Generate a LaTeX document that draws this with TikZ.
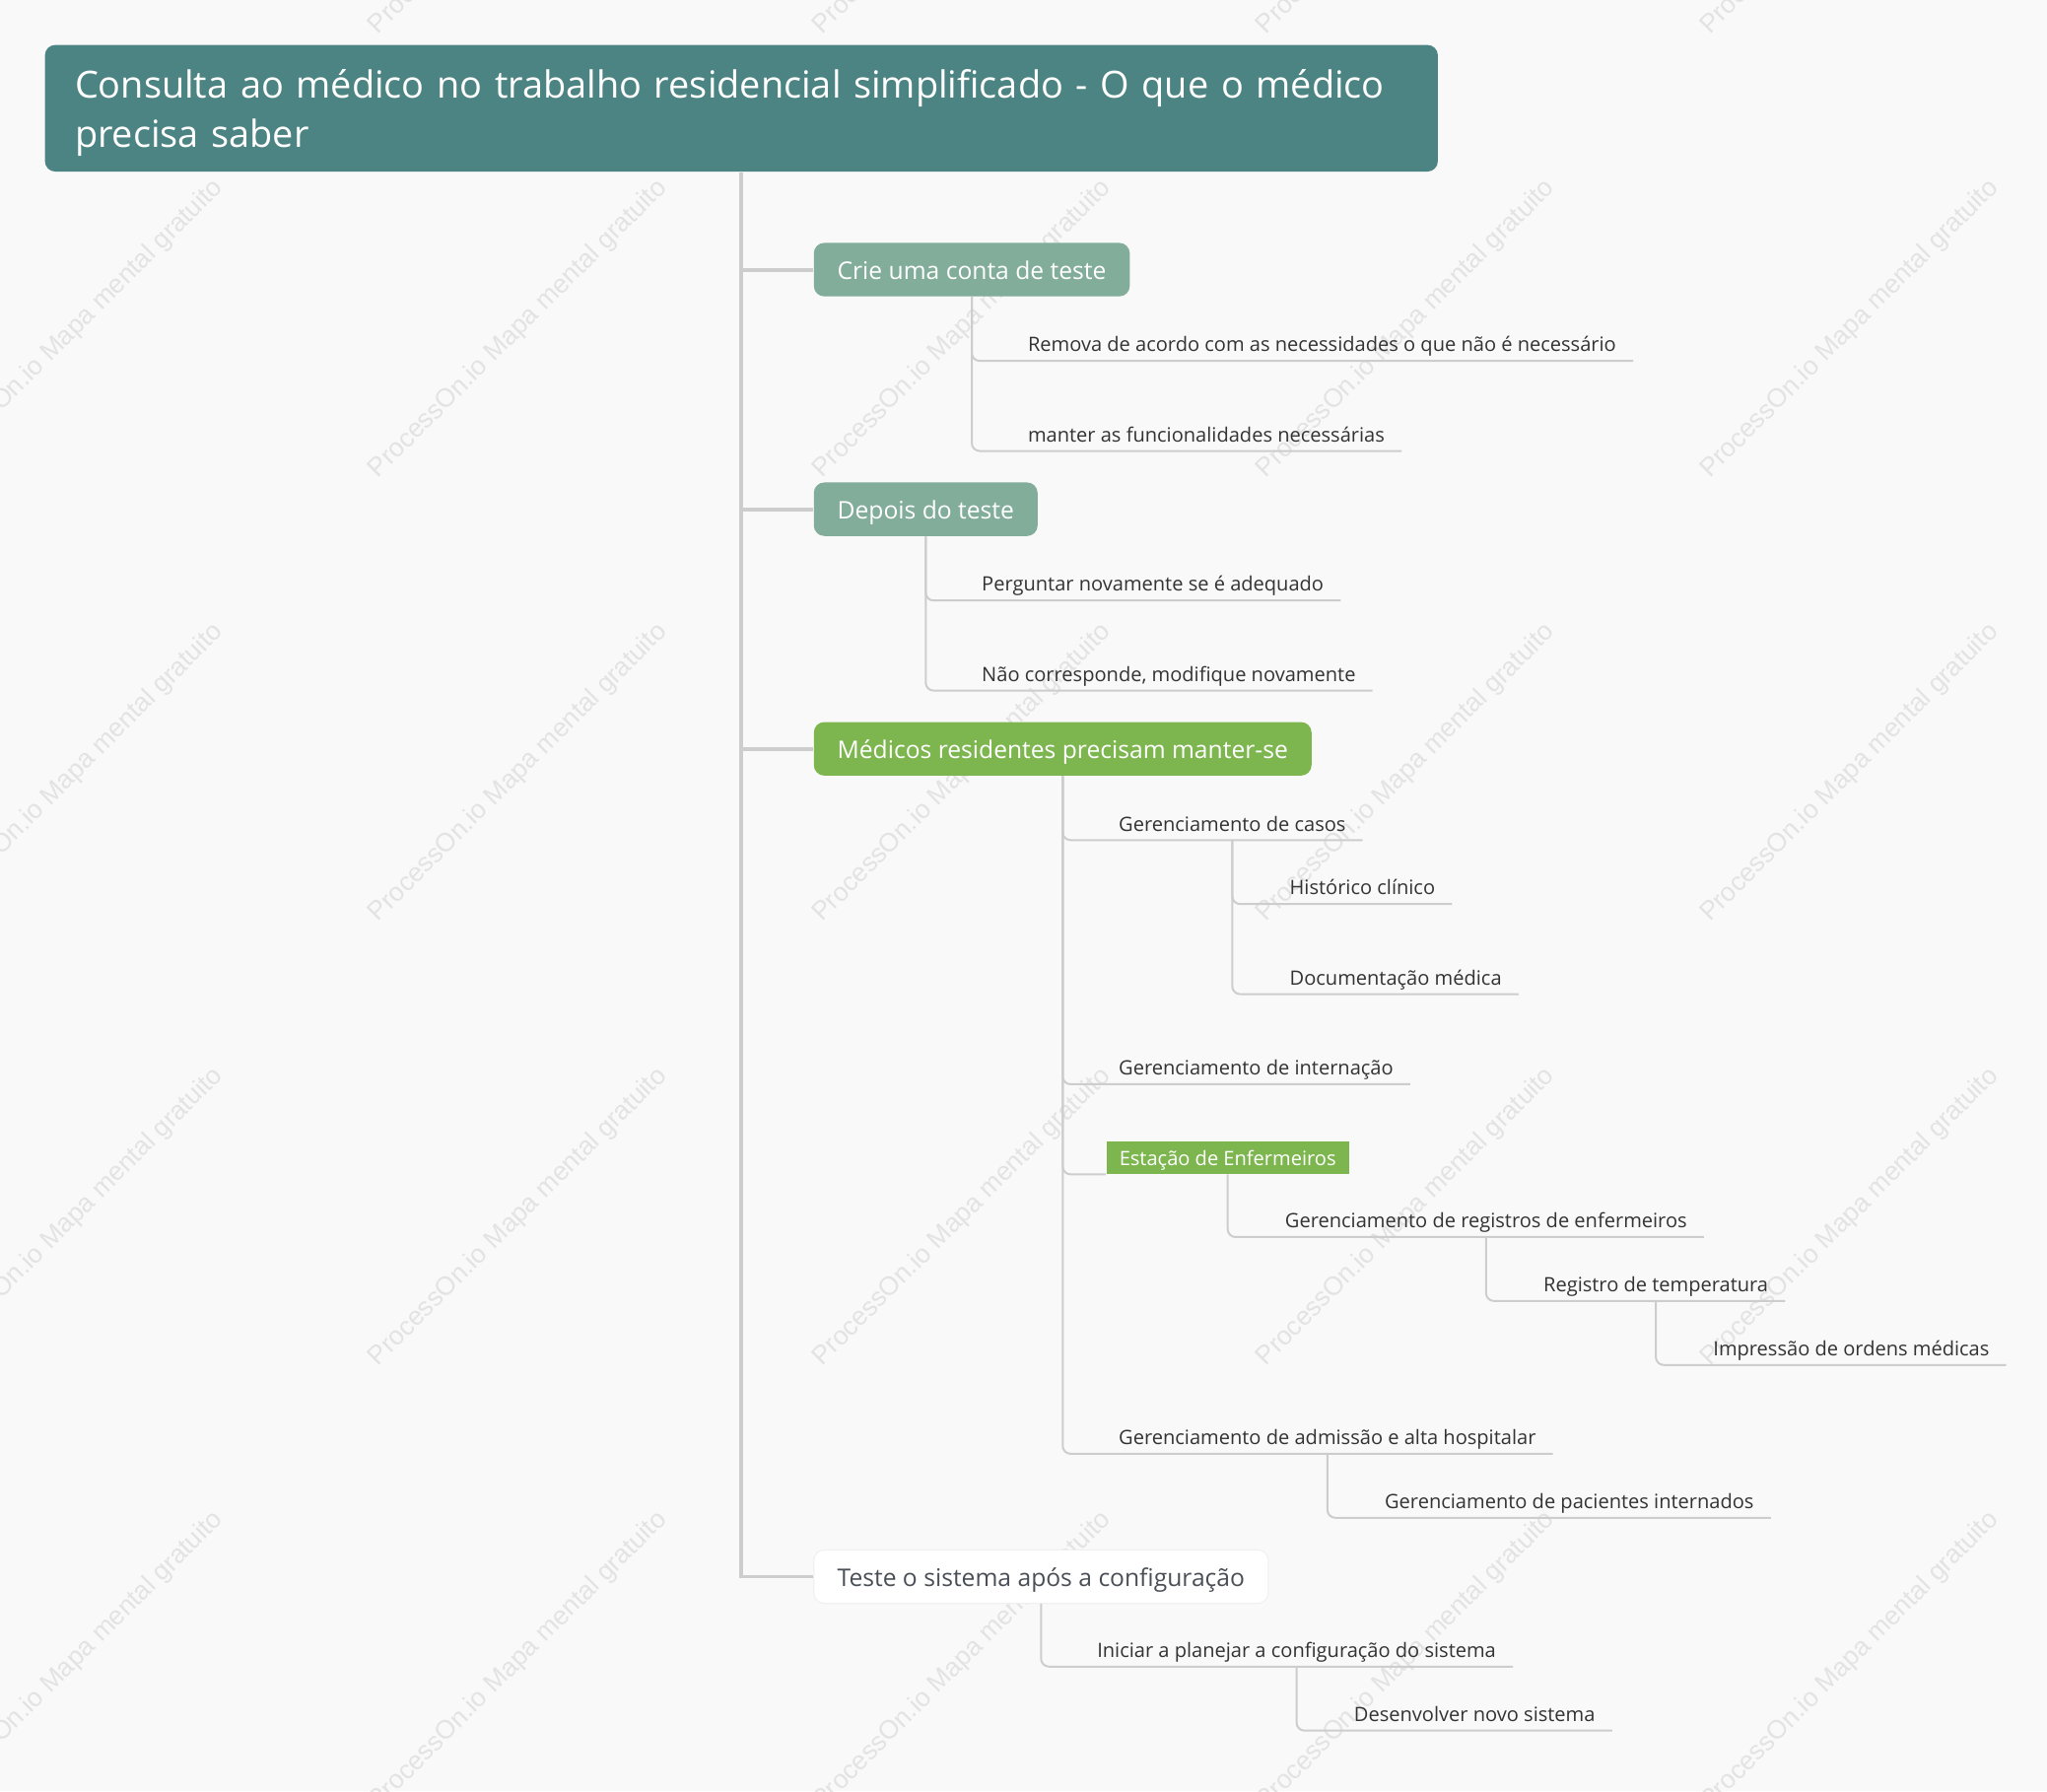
\documentclass[tikz,border=0pt]{standalone}
\usepackage{fontspec}
\setmainfont{Open Sans}
\newfontfamily\wmfont{Liberation Sans}
\usetikzlibrary{positioning}
\definecolor{bgcol}{HTML}{F9F9F9}
\definecolor{titlecol}{HTML}{4B8482}
\definecolor{branchcol}{HTML}{82AD9A}
\definecolor{greencol}{HTML}{7DB64F}
\definecolor{linecol}{HTML}{CDCDCD}
\definecolor{leaftext}{HTML}{333333}
\definecolor{testetext}{HTML}{4A4F57}
\definecolor{wmcol}{HTML}{E3E3E3}
\tikzset{
  titlebox/.style = {rectangle, rounded corners=4pt, fill=titlecol, text=white, anchor=north west,
    inner xsep=11.5pt, inner ysep=0pt, minimum height=48.5pt, text width=510.5pt, align=left,
    font=\fontsize{14.3}{19}\selectfont},
  branch/.style = {rectangle, rounded corners=4pt, fill=branchcol, text=white, anchor=west,
    inner xsep=9pt, inner ysep=0pt, minimum height=20.5pt, text height=0.8em, text depth=0.04em,
    font=\fontsize{9.3}{10}\selectfont},
  greenbranch/.style = {branch, fill=greencol},
  whitebranch/.style = {branch, fill=white, draw=black!6, text=testetext},
  leaf/.style = {inner sep=0pt, outer sep=0pt, anchor=base west, text=leaftext,
    font=\fontsize{7.57}{9}\selectfont},
  greenleaf/.style = {rectangle, fill=greencol, text=white, anchor=south west, inner xsep=5pt,
    inner ysep=0pt, minimum height=12.5pt, text height=0.72em, text depth=0.12em,
    font=\fontsize{7.57}{9}\selectfont},
  trunk/.style = {draw=linecol, line width=1.5pt},
  sub/.style = {draw=linecol, line width=0.75pt, rounded corners=3pt},
  wmark/.style = {rotate=45, text=wmcol, font=\wmfont\fontsize{10}{11}\selectfont},
}

\begin{document}
\begin{tikzpicture}[x=0.5pt, y=-0.5pt]
% background and page size
\fill[bgcol] (0,0) rectangle (1568,1372);
\useasboundingbox (0,0) rectangle (1568,1372);

% watermark
\begin{scope}
\clip (0,0) rectangle (1568,1372);
\foreach \wx in {57,397,737,1077,1417}
  \foreach \wy in {-88,252,592,932,1272}
    \node[wmark] at (\wx,\wy) {ProcessOn.io Mapa mental gratuito};
\end{scope}

% title and main branches
\node[titlebox] (title) at (34,34) {\rule{0pt}{14.5pt}Consulta ao médico no trabalho residencial simplificado - O que o médico\\precisa saber};
\node[branch] (crie) at (623,206.5) {Crie uma conta de teste};
\node[branch] (depois) at (623,390) {Depois do teste};
\node[greenbranch] (medicos) at (623,573.5) {Médicos residentes precisam manter-se};
\node[whitebranch] (teste) at (623,1207.5) {Teste o sistema após a configuração};

\draw[trunk] (title.south) |- (crie.west);
\draw[trunk] (title.south) |- (depois.west);
\draw[trunk] (title.south) |- (medicos.west);
\draw[trunk] (title.south) |- (teste.west);

% Crie uma conta de teste
\node[leaf] (remova) at ([shift={(43,42)}]crie.south) {Remova de acordo com as necessidades o que não é necessário};
\node[leaf] (manter) at ([shift={(43,111)}]crie.south) {manter as funcionalidades necessárias};
\draw[sub] (crie.south) |- ([shift={(13,7)}]remova.base east);
\draw[sub] (crie.south) |- ([shift={(13,7)}]manter.base east);

% Depois do teste
\node[leaf] (perguntar) at ([shift={(43,42)}]depois.south) {Perguntar novamente se é adequado};
\node[leaf] (naocorr) at ([shift={(43,111)}]depois.south) {Não corresponde, modifique novamente};
\draw[sub] (depois.south) |- ([shift={(13,7)}]perguntar.base east);
\draw[sub] (depois.south) |- ([shift={(13,7)}]naocorr.base east);

% Medicos residentes
\node[leaf] (gcasos) at ([shift={(43,42)}]medicos.south) {Gerenciamento de casos};
\node[leaf] (ginternacao) at ([shift={(43,229)}]medicos.south) {Gerenciamento de internação};
\node[greenleaf] (estacao) at ([shift={(33,305)}]medicos.south) {Estação de Enfermeiros};
\node[leaf] (gadmissao) at ([shift={(43,512)}]medicos.south) {Gerenciamento de admissão e alta hospitalar};
\draw[sub] (medicos.south) |- ([shift={(13,7)}]gcasos.base east);
\draw[sub] (medicos.south) |- ([shift={(13,7)}]ginternacao.base east);
\draw[sub] (medicos.south) |- (estacao.south west);
\draw[sub] (medicos.south) |- ([shift={(13,7)}]gadmissao.base east);

\node[leaf] (historico) at ([shift={(44,49)}]gcasos.base) {Histórico clínico};
\node[leaf] (documentacao) at ([shift={(44,118)}]gcasos.base) {Documentação médica};
\draw[sub] ([shift={(0,7)}]gcasos.base) |- ([shift={(13,7)}]historico.base east);
\draw[sub] ([shift={(0,7)}]gcasos.base) |- ([shift={(13,7)}]documentacao.base east);

\node[leaf] (gregistros) at ([shift={(44,41)}]estacao.south) {Gerenciamento de registros de enfermeiros};
\draw[sub] (estacao.south) |- ([shift={(13,7)}]gregistros.base east);
\node[leaf] (registro) at ([shift={(44,49)}]gregistros.base) {Registro de temperatura};
\draw[sub] ([shift={(0,7)}]gregistros.base) |- ([shift={(13,7)}]registro.base east);
\node[leaf] (impressao) at ([shift={(44,49)}]registro.base) {Impressão de ordens médicas};
\draw[sub] ([shift={(0,7)}]registro.base) |- ([shift={(13,7)}]impressao.base east);

\node[leaf] (gpacientes) at ([shift={(44,49)}]gadmissao.base) {Gerenciamento de pacientes internados};
\draw[sub] ([shift={(0,7)}]gadmissao.base) |- ([shift={(13,7)}]gpacientes.base east);

% Teste o sistema
\node[leaf] (iniciar) at ([shift={(43,41)}]teste.south) {Iniciar a planejar a configuração do sistema};
\draw[sub] (teste.south) |- ([shift={(13,7)}]iniciar.base east);
\node[leaf] (desenvolver) at ([shift={(44,49)}]iniciar.base) {Desenvolver novo sistema};
\draw[sub] ([shift={(0,7)}]iniciar.base) |- ([shift={(13,7)}]desenvolver.base east);
\end{tikzpicture}
\end{document}
